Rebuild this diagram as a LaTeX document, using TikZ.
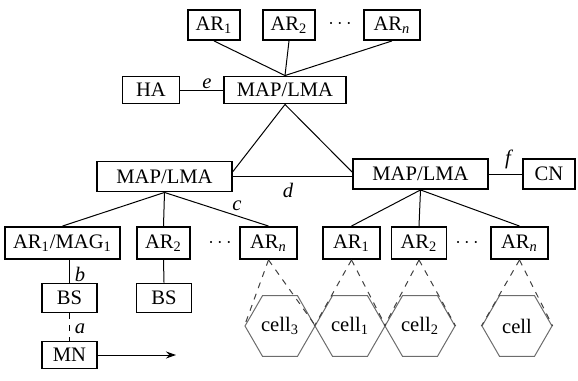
\documentclass[tikz,border=0pt]{standalone}
\usepackage{fontspec}
\setmainfont{Liberation Serif}
\usepackage{tikz}
\usetikzlibrary{arrows.meta,calc,shapes.geometric}

\begin{document}
\begin{tikzpicture}[
  x=0.5pt, y=-0.5pt,
  every node/.style={font=\fontsize{10.3}{12}\selectfont},
  box/.style={draw, line width=0.95pt, minimum height=15pt, inner sep=1pt},
  cellhex/.style={draw=gray!85!black, text=black, line width=0.5pt, regular polygon,
    regular polygon sides=6, minimum size=35pt, inner sep=0pt},
  conn/.style={line width=0.5pt},
  cone/.style={dashed, line width=0.5pt, gray!50!black},
  lbl/.style={font=\fontsize{10.3}{12}\selectfont\itshape, inner sep=0pt},
  arr/.style={-{Stealth[length=5pt, width=3.5pt]}, line width=0.5pt}
]
\useasboundingbox (0,0) rectangle (578,380);

% Top level
\node[box, minimum width=26pt] (art1) at (214,25) {AR\textsubscript{1}};
\node[box, minimum width=26pt] (art2) at (289,25) {AR\textsubscript{2}};
\node (dotst) at (340,24) {$\cdots$};
\node[box, minimum width=28pt] (artn) at (392,25) {AR\textsubscript{\textit{n}}};
\node[box, minimum width=61pt, minimum height=13.5pt] (tmap) at (285,90) {MAP/LMA};
\node[box, minimum width=28.5pt, minimum height=13.5pt] (ha) at (151,90) {HA};

% Middle level
\node[box, minimum width=67.5pt] (lmap) at (164.5,176.5) {MAP/LMA};
\node[box, minimum width=67.5pt] (rmap) at (420.5,174) {MAP/LMA};
\node[box, minimum width=26pt] (cn) at (549,174) {CN};

% Access routers, left
\node[box, minimum width=57.5pt, minimum height=16pt] (armag) at (62.5,243) {AR\textsubscript{1}/MAG\textsubscript{1}};
\node[box, minimum width=26.5pt, minimum height=16pt] (ar2l) at (163.5,243) {AR\textsubscript{2}};
\node (dotsl) at (220,243) {$\cdots$};
\node[box, minimum width=28.5pt, minimum height=16pt] (arnl) at (268.5,243) {AR\textsubscript{\textit{n}}};

% Access routers, right
\node[box, minimum width=28.5pt, minimum height=16pt] (ar1r) at (351.5,243) {AR\textsubscript{1}};
\node[box, minimum width=27.5pt, minimum height=16pt] (ar2r) at (419,243) {AR\textsubscript{2}};
\node (dotsr) at (467,243) {$\cdots$};
\node[box, minimum width=28.5pt, minimum height=16pt] (arnr) at (519.5,243) {AR\textsubscript{\textit{n}}};

% Base stations and mobile node
\node[box, minimum width=27.5pt, minimum height=14.5pt] (bs1) at (69.5,298) {BS};
\node[box, minimum width=27.5pt, minimum height=14.5pt] (bs2) at (164,298) {BS};
\node[box, minimum width=27.5pt, minimum height=13.5pt] (mn) at (69.5,355) {MN};
\coordinate (mnend) at (176,355);

% Cells
\node[cellhex] (c3) at (280,326) {cell\textsubscript{3}};
\node[cellhex] (c1) at (350,326) {cell\textsubscript{1}};
\node[cellhex] (c2) at (420,326) {cell\textsubscript{2}};
\node[cellhex] (cc) at (517,326) {cell};

% Connectors
\draw[conn] (art1.south) -- (tmap.north);
\draw[conn] (art2.south) -- (tmap.north);
\draw[conn] (artn.south) -- (tmap.north);
\draw[conn] (ha) -- (tmap);
\draw[conn] (tmap.south) -- ($(lmap.east)+(0,-5)$);
\draw[conn] (tmap.south) -- ($(rmap.west)+(0,-2)$);
\draw[conn] (lmap.east) -- (rmap.west |- lmap.east);
\draw[conn] (rmap) -- (cn);
\draw[conn] (lmap.south) -- (armag.north);
\draw[conn] (lmap.south) -- (ar2l.north);
\draw[conn] (lmap.south) -- (arnl.north);
\draw[conn] (rmap.south) -- (ar1r.north);
\draw[conn] (rmap.south) -- (ar2r.north);
\draw[conn] (rmap.south) -- (arnr.north);
\draw[conn] (bs1.north) -- (bs1.north |- armag.south);
\draw[conn] (ar2l.south) -- (bs2.north);
\draw[conn, dashed] (bs1) -- (mn);
\draw[arr] (mn.east) -- (mnend);

% Coverage cones
\draw[cone] (arnl.south) -- (c3.west);
\draw[cone] (arnl.south) -- (c3.east);
\draw[cone] (ar1r.south) -- (c1.west);
\draw[cone] (ar1r.south) -- (c1.east);
\draw[cone] (ar2r.south) -- (c2.west);
\draw[cone] (ar2r.south) -- (c2.east);
\draw[cone] (arnr.south) -- (cc.west);
\draw[cone] (arnr.south) -- (cc.east);

% Interface labels
\node[lbl] (le) at (207,84) {e};
\node[lbl] (lf) at (508,159) {f};
\node[lbl] (ld) at (288,190) {d};
\node[lbl] (lc) at (237,206) {c};
\node[lbl] (lb) at (80,274) {b};
\node[lbl] (la) at (80,329) {a};

\end{tikzpicture}
\end{document}
